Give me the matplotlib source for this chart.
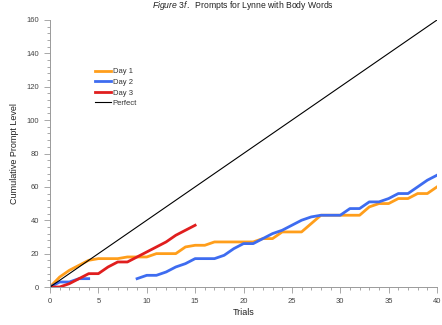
import numpy as np
import matplotlib
matplotlib.use("Agg")
import matplotlib.pyplot as plt
from matplotlib.ticker import MultipleLocator

plt.rcParams['font.family'] = ['Liberation Sans', 'DejaVu Sans']
plt.rcParams['mathtext.fontset'] = 'custom'
plt.rcParams['mathtext.it'] = 'Liberation Sans:italic'
plt.rcParams['mathtext.rm'] = 'Liberation Sans'

# Cumulative prompt level per trial
day1_trials = list(range(0, 41))
day1_values = [0, 6, 10, 13, 16, 17, 17, 17, 18, 18, 18, 20, 20, 20, 24, 25, 25, 27, 27, 27,
               27, 27, 29, 29, 33, 33, 33, 38, 43, 43, 43, 43, 43, 48, 50, 50, 53, 53, 56, 56, 60]

day2_trials = list(range(0, 41))
day2_values = [0, 3, 3, 5, 5, None, None, None, None, 5, 7, 7, 9, 12, 14, 17, 17, 17, 19, 23,
               26, 26, 29, 32, 34, 37, 40, 42, 43, 43, 43, 47, 47, 51, 51, 53, 56, 56, 60, 64, 67]

day3_trials = list(range(0, 16))
day3_values = [0, 0, 2, 5, 8, 8, 12, 15, 15, 18, 21, 24, 27, 31, 34, 37]

perfect_trials = [0, 40]
perfect_values = [0, 160]

series_labels = ["Day 1", "Day 2", "Day 3", "Perfect"]

fig = plt.figure(figsize=(4.42, 3.25), dpi=100)
ax = fig.add_axes([50/442, 1 - 287/325, 387/442, 267/325])

def arr(v):
    return np.array([np.nan if x is None else x for x in v], dtype=float)

ax.plot(day1_trials, arr(day1_values), color="#FF9E1B", lw=2.0, label=series_labels[0],
        solid_joinstyle='round')
ax.plot(day2_trials, arr(day2_values), color="#3E6CF0", lw=2.0, label=series_labels[1],
        solid_joinstyle='round')
ax.plot(day3_trials, arr(day3_values), color="#E01E1E", lw=2.0, label=series_labels[2],
        solid_joinstyle='round')
ax.plot(perfect_trials, perfect_values, color="black", lw=0.8, label=series_labels[3])

ax.set_xlim(0, 40)
ax.set_ylim(0, 160)
ax.xaxis.set_major_locator(MultipleLocator(5))
ax.xaxis.set_minor_locator(MultipleLocator(1))
ax.yaxis.set_major_locator(MultipleLocator(20))
ax.yaxis.set_minor_locator(MultipleLocator(4))

for s in ['top', 'right']:
    ax.spines[s].set_visible(False)
for s in ['left', 'bottom']:
    ax.spines[s].set_color('#9a9a9a')
    ax.spines[s].set_linewidth(0.7)

ax.tick_params(which='both', colors='#9a9a9a', labelcolor='#444444', labelsize=5.5,
               width=0.6, direction='out')
ax.tick_params(which='major', length=4)
ax.tick_params(which='minor', length=2)
ax.tick_params(axis='x', which='major', pad=4)
ax.tick_params(axis='y', which='major', pad=4)

ax.set_xlabel("Trials", fontsize=6.5, color='#222222', labelpad=2)
ax.set_ylabel("Cumulative Prompt Level", fontsize=6.5, color='#222222', labelpad=5)

fig.text(243/442, 1 - 5/325, r"$\it{Figure\ 3f.}$  Prompts for Lynne with Body Words",
         ha='center', va='center', fontsize=6.2, color='#222222')

leg = ax.legend(loc='upper left', bbox_to_anchor=(0.115, 0.82), frameon=False,
                fontsize=5.5, handlelength=2.2, handletextpad=0.2, labelspacing=0.42,
                borderaxespad=0, borderpad=0)
for t in leg.get_texts():
    t.set_color('#333333')

fig.savefig("out.png", dpi=100)
